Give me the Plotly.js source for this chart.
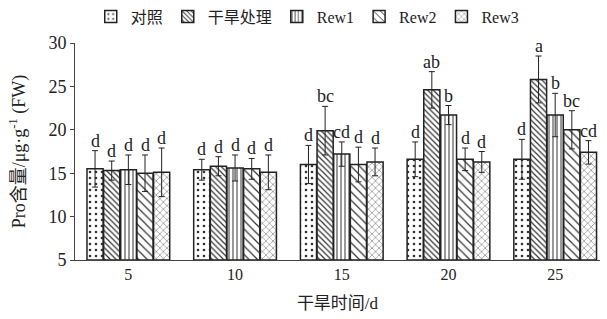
<!DOCTYPE html>
<html><head><meta charset="utf-8">
<script src="https://cdn.plot.ly/plotly-3.0.1.min.js"></script>
<style>body{margin:0}#c{width:607px;height:319px}</style>
</head><body><div id="c"></div>
<script>
var days = ['5','10','15','20','25'];
var names = ['对照','干旱处理','Rew1','Rew2','Rew3'];
var ctrl  = [15.5, 15.4, 16.0, 16.6, 16.6];
var drought = [15.3, 15.8, 19.9, 24.6, 25.8];
var rew1  = [15.4, 15.6, 17.2, 21.7, 21.7];
var rew2  = [15.0, 15.5, 16.0, 16.6, 20.0];
var rew3  = [15.1, 15.1, 16.3, 16.3, 17.4];
var errCtrl = [2.1, 1.2, 2.2, 2.0, 2.3];
var errDrought = [1.1, 1.1, 2.8, 2.1, 2.7];
var errRew1 = [1.7, 1.5, 1.4, 1.1, 2.5];
var errRew2 = [2.1, 1.2, 2.0, 1.3, 2.2];
var errRew3 = [2.8, 2.0, 1.6, 1.2, 1.35];
var letCtrl = ['d','d','d','d','d'];
var letDrought = ['d','d','bc','ab','a'];
var letRew1 = ['d','d','cd','b','b'];
var letRew2 = ['d','d','d','d','bc'];
var letRew3 = ['d','d','d','d','cd'];

var vals = [ctrl, drought, rew1, rew2, rew3];
var errs = [errCtrl, errDrought, errRew1, errRew2, errRew3];
var lets = [letCtrl, letDrought, letRew1, letRew2, letRew3];
var patterns = [
  {shape:'.', size:6, solidity:0.15},
  {shape:'\\', size:4, solidity:0.3},
  {shape:'|', size:4, solidity:0.25},
  {shape:'\\', size:6, solidity:0.2},
  {shape:'x', size:5, solidity:0.15}
];
var xs = days.map(function(d,i){return i;});
var font = 'Liberation Serif, Times New Roman, Noto Sans CJK SC, serif';
var bargap = 0.22;
var bw = (1-bargap)/5;

var traces = vals.map(function(v,k){
  return {
    type:'bar', name:names[k], x:xs, y:v.map(function(a){return a-5;}), base:5,
    marker:{color:'white', line:{color:'#222', width:1.5},
      pattern:{shape:patterns[k].shape, size:patterns[k].size, solidity:patterns[k].solidity, fgcolor:'#333', bgcolor:'white'}},
    error_y:{type:'data', array:errs[k], color:'#222', thickness:1, width:3}
  };
});

var ann = [];
vals.forEach(function(v,k){
  v.forEach(function(a,i){
    ann.push({x:i+(k-2)*bw, y:a+errs[k][i], text:lets[k][i], showarrow:false,
      yanchor:'bottom', yshift:-2, font:{family:font, size:18, color:'#222'}});
  });
});

var layout = {
  width:607, height:319,
  margin:{l:75, r:7, t:43, b:59, autoexpand:false},
  paper_bgcolor:'white', plot_bgcolor:'white',
  barmode:'group', bargap:bargap, bargroupgap:0.03,
  font:{family:font, size:16, color:'#222'},
  showlegend:true,
  legend:{orientation:'h', x:0.03, xanchor:'left', y:1.2, yanchor:'top',
    font:{family:font, size:16, color:'#222'}, itemwidth:30, tracegroupgap:0, bgcolor:'rgba(0,0,0,0)'},
  xaxis:{range:[-0.5,4.42], tickvals:xs, ticktext:days, showline:true, linecolor:'#444', linewidth:1,
    ticks:'', showgrid:false, zeroline:false, tickfont:{family:font,size:16},
    title:{text:'干旱时间/d', font:{family:font,size:17}, standoff:14}},
  yaxis:{range:[5,30], tickvals:[5,10,15,20,25,30], showline:true, linecolor:'#444', linewidth:1,
    ticks:'outside', ticklen:4, tickcolor:'#444', showgrid:false, zeroline:false, tickfont:{family:font,size:18},
    title:{text:'Pro含量/μg·g<sup>-1</sup> (FW)', font:{family:font,size:18}, standoff:18}},
  annotations:ann
};
Plotly.newPlot('c', traces, layout, {displayModeBar:false, staticPlot:true});
</script></body></html>
